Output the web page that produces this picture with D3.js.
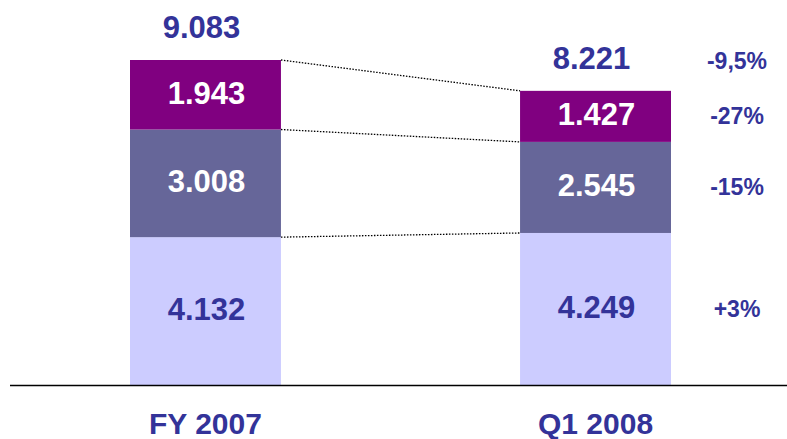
<!DOCTYPE html>
<html>

<head>
  <meta charset="utf-8" />
  <title>FY 2007 vs Q1 2008</title>
  <style>
    body {
      margin: 0;
      background: #fff;
    }

    text {
      font-family: Arial, "Liberation Sans", sans-serif;
      font-weight: bold;
    }
  </style>
  <script src="https://cdnjs.cloudflare.com/ajax/libs/d3/7.8.5/d3.min.js"></script>
</head>

<body>
  <div id="chartArea"></div>
  <script>
    // data
    var categories = ['FY 2007', 'Q1 2008'];
    var segments = ['base', 'middle', 'top'];
    var baseValues = [4132, 4249];
    var middleValues = [3008, 2545];
    var topValues = [1943, 1427];
    var totalLabels = ['9.083', '8.221'];
    var changeLabels = ['+3%', '-15%', '-27%', '-9,5%'];

    var w = 787,
      h = 439;
    var colors = { base: '#ccccff', middle: '#666699', top: '#800080' };
    var textColors = { base: '#333399', middle: '#ffffff', top: '#ffffff' };
    var blue = '#333399';

    var rows = categories.map(function (c, i) {
      return { cat: c, base: baseValues[i], middle: middleValues[i], top: topValues[i] };
    });
    var stack = d3.stack().keys(segments)(rows);
    var totals = rows.map(function (r) { return r.base + r.middle + r.top; });

    var xScale = d3.scaleBand()
      .domain(categories)
      .range([130, 671])
      .paddingInner(0.613)
      .paddingOuter(0);
    var bw = xScale.bandwidth();

    var yScale = d3.scaleLinear()
      .domain([0, d3.max(totals)])
      .range([385, 60]);

    var svg = d3.select('#chartArea').append('svg')
      .attr('width', w)
      .attr('height', h);

    // bars
    var layers = svg.selectAll('g.layer')
      .data(stack)
      .enter()
      .append('g')
      .attr('class', 'layer')
      .attr('fill', d => colors[d.key]);

    layers.selectAll('rect')
      .data(d => d)
      .enter()
      .append('rect')
      .attr('x', d => xScale(d.data.cat))
      .attr('y', d => yScale(d[1]))
      .attr('width', bw)
      .attr('height', d => yScale(d[0]) - yScale(d[1]));

    // segment value labels
    stack.forEach(function (layer) {
      svg.selectAll(null)
        .data(layer)
        .enter()
        .append('text')
        .attr('x', d => xScale(d.data.cat) + bw / 2 + 1)
        .attr('y', d => (yScale(d[0]) + yScale(d[1])) / 2 + 9)
        .attr('text-anchor', 'middle')
        .attr('font-size', 31)
        .attr('fill', textColors[layer.key])
        .text(d => d3.format(',.3f')(d.data[layer.key] / 1000).replace(',', ''));
    });

    // dotted connectors between bars at every segment top
    stack.forEach(function (layer) {
      svg.append('line')
        .attr('x1', xScale(categories[0]) + bw)
        .attr('y1', yScale(layer[0][1]))
        .attr('x2', xScale(categories[1]))
        .attr('y2', yScale(layer[1][1]))
        .attr('stroke', '#000')
        .attr('stroke-width', 1.3)
        .attr('stroke-dasharray', '1.5,1.5');
    });

    // totals
    svg.selectAll('text.total')
      .data(totals)
      .enter()
      .append('text')
      .attr('class', 'total')
      .attr('x', (d, i) => xScale(categories[i]) + bw / 2 - 4)
      .attr('y', d => yScale(d) - 22)
      .attr('text-anchor', 'middle')
      .attr('font-size', 31)
      .attr('fill', blue)
      .text((d, i) => totalLabels[i]);

    // percentage changes, aligned with Q1 2008 segments
    var last = stack.map(l => l[1]);
    var changeY = last.map(d => (yScale(d[0]) + yScale(d[1])) / 2 + 8)
      .concat([yScale(totals[1]) - 22]);
    svg.selectAll('text.change')
      .data(changeLabels)
      .enter()
      .append('text')
      .attr('class', 'change')
      .attr('x', 737)
      .attr('y', (d, i) => changeY[i])
      .attr('text-anchor', 'middle')
      .attr('font-size', 23)
      .attr('fill', blue)
      .text(d => d);

    // baseline
    svg.append('line')
      .attr('x1', 10)
      .attr('x2', w)
      .attr('y1', yScale(0) + 0.5)
      .attr('y2', yScale(0) + 0.5)
      .attr('stroke', '#000')
      .attr('stroke-width', 1.5);

    // category labels
    svg.selectAll('text.cat')
      .data(categories)
      .enter()
      .append('text')
      .attr('class', 'cat')
      .attr('x', d => xScale(d) + bw / 2)
      .attr('y', 434)
      .attr('text-anchor', 'middle')
      .attr('font-size', 30)
      .attr('fill', blue)
      .text(d => d);
  </script>
</body>

</html>
